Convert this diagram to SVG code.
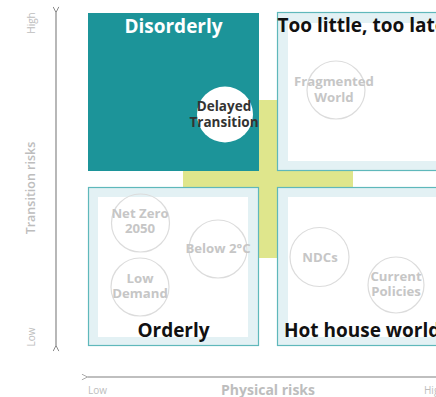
<svg xmlns="http://www.w3.org/2000/svg" width="436" height="397" viewBox="0 0 436 397">
<style>
.t{font-family:"Open Sans","Liberation Sans",sans-serif;font-weight:700}
.title{font-size:19px;fill:#111}
.ct{font-size:13.2px;fill:#c6c6c6;text-anchor:middle}
.circ{fill:none;stroke:#dcdcdc;stroke-width:1.2}
.box{fill:#e3f1f4;stroke:#5fb8bb;stroke-width:1.2}
.inner{fill:#fff}
.ax{font-family:"Open Sans","Liberation Sans",sans-serif;fill:#bdbdbd}
</style>
<defs>
<marker id="ah" viewBox="0 0 10 10" refX="1" refY="5" markerWidth="7" markerHeight="7" orient="auto-start-reverse" markerUnits="userSpaceOnUse">
<path d="M9,1 L1,5 L9,9" fill="none" stroke="#888" stroke-width="1.4"/>
</marker>
<marker id="ah2" viewBox="0 0 10 10" refX="1" refY="5" markerWidth="7" markerHeight="7" orient="auto-start-reverse" markerUnits="userSpaceOnUse">
<path d="M9,1 L1,5 L9,9" fill="none" stroke="#aaa" stroke-width="1.4"/>
</marker>
</defs>
<rect width="436" height="397" fill="#fff"/>
<g id="cross">
<rect x="183" y="171" width="170" height="16" fill="#dfe68c"/>
<rect x="259" y="100" width="18" height="158" fill="#dfe68c"/>
</g>
<g id="disorderly">
<rect x="88" y="13" width="171" height="158" fill="#1c9499"/>
<text class="t" x="173.5" y="33" font-size="19" fill="#fff" text-anchor="middle">Disorderly</text>
</g>
<g id="too-little">
<rect class="box" x="277.5" y="12.5" width="175" height="158"/>
<rect class="inner" x="288" y="23" width="170" height="138"/>
<text class="t title" x="277.5" y="32">Too little, too late</text>
</g>
<g id="orderly">
<rect class="box" x="88.5" y="187.5" width="170" height="158"/>
<rect class="inner" x="98" y="197" width="150" height="140"/>
<text class="t title" x="173.5" y="337" text-anchor="middle">Orderly</text>
</g>
<g id="hot-house">
<rect class="box" x="277.5" y="187.5" width="175" height="158"/>
<rect class="inner" x="288" y="197" width="170" height="140"/>
<text class="t title" x="284" y="337">Hot house world</text>
</g>
<g id="delayed-transition">
<circle cx="225" cy="114.5" r="28" fill="#fff"/>
<text class="t" x="224" y="110.5" font-size="13.5" fill="#333" text-anchor="middle">Delayed</text>
<text class="t" x="224" y="126.5" font-size="13.5" fill="#333" text-anchor="middle">Transition</text>
</g>
<g id="fragmented-world">
<circle class="circ" cx="336" cy="90" r="29"/>
<text class="t ct" x="334" y="86">Fragmented</text>
<text class="t ct" x="334" y="101.5">World</text>
</g>
<g id="net-zero">
<circle class="circ" cx="140.5" cy="223" r="29"/>
<text class="t ct" x="140" y="217.5">Net Zero</text>
<text class="t ct" x="140" y="233">2050</text>
</g>
<g id="low-demand">
<circle class="circ" cx="140" cy="287" r="29"/>
<text class="t ct" x="140" y="282.5">Low</text>
<text class="t ct" x="140" y="298">Demand</text>
</g>
<g id="below-2c">
<circle class="circ" cx="218" cy="249" r="29"/>
<text class="t ct" x="218" y="253">Below 2°C</text>
</g>
<g id="ndcs">
<circle class="circ" cx="319.5" cy="257" r="29.5"/>
<text class="t ct" x="320" y="261.5">NDCs</text>
</g>
<g id="current-policies">
<circle class="circ" cx="396" cy="285" r="28"/>
<text class="t ct" x="396" y="280.5">Current</text>
<text class="t ct" x="396" y="296">Policies</text>
</g>
<g id="connectors">
<line x1="56" y1="12.5" x2="56" y2="345.5" stroke="#888" stroke-width="1.2" marker-start="url(#ah)" marker-end="url(#ah)"/>
<line x1="87.5" y1="377" x2="440" y2="377" stroke="#aaa" stroke-width="1.5" marker-start="url(#ah2)"/>
</g>
<g id="axis-labels">
<text class="ax" font-size="10" transform="translate(35,23) rotate(-90)" text-anchor="middle">High</text>
<text class="ax" font-size="12.5" font-weight="600" transform="translate(35,188) rotate(-90)" text-anchor="middle">Transition risks</text>
<text class="ax" font-size="10" transform="translate(35,337) rotate(-90)" text-anchor="middle">Low</text>
<text class="ax" font-size="10" x="88" y="394">Low</text>
<text class="ax" font-size="14" font-weight="700" x="268" y="394.5" text-anchor="middle">Physical risks</text>
<text class="ax" font-size="10" x="424" y="394">High</text>
</g>
</svg>
